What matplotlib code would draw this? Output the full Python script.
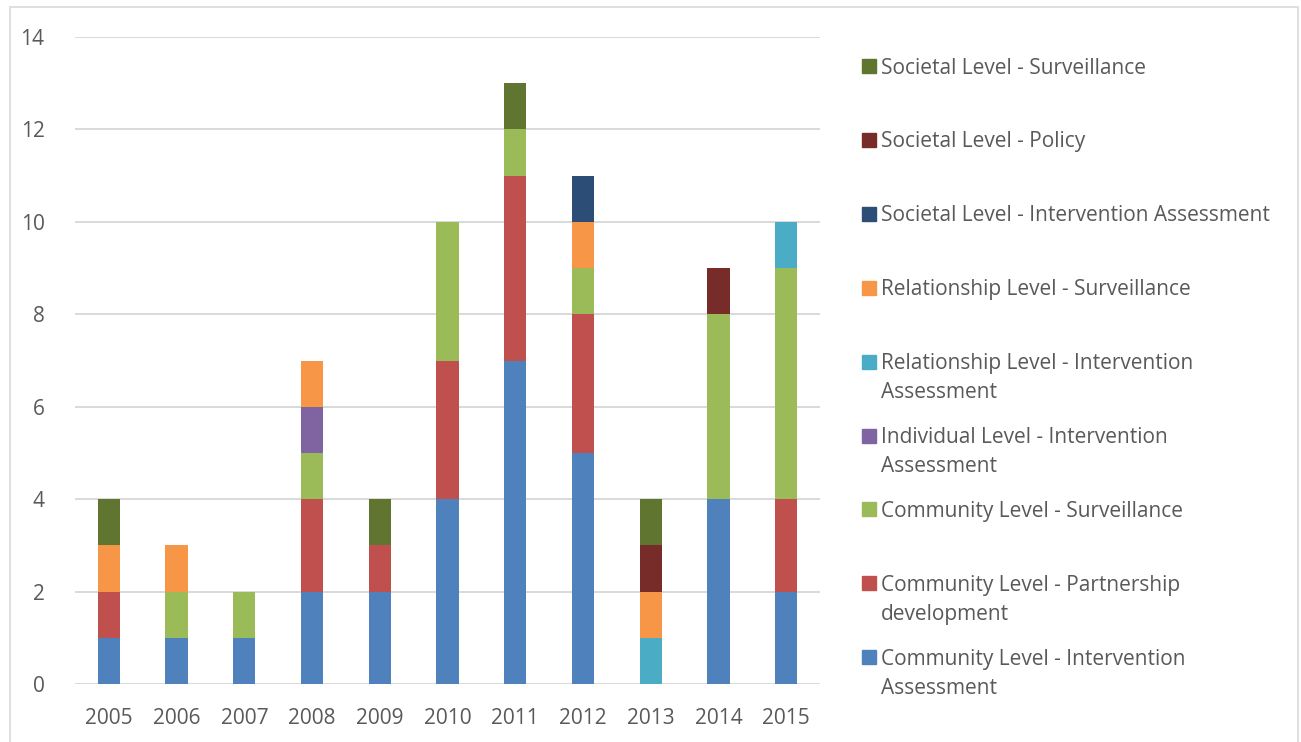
import matplotlib.pyplot as plt
import matplotlib.patches as patches
import numpy as np

W, H = 1301, 742

years = ["2005", "2006", "2007", "2008", "2009", "2010",
         "2011", "2012", "2013", "2014", "2015"]

# series in stacking order (bottom to top)
series_names = [
    "Community Level - Intervention Assessment",
    "Community Level - Partnership development",
    "Community Level - Surveillance",
    "Individual Level - Intervention Assessment",
    "Relationship Level - Intervention Assessment",
    "Relationship Level - Surveillance",
    "Societal Level - Intervention Assessment",
    "Societal Level - Policy",
    "Societal Level - Surveillance",
]
# wrapped legend text, as Excel shows it
legend_labels = [
    "Community Level - Intervention\nAssessment",
    "Community Level - Partnership\ndevelopment",
    "Community Level - Surveillance",
    "Individual Level - Intervention\nAssessment",
    "Relationship Level - Intervention\nAssessment",
    "Relationship Level - Surveillance",
    "Societal Level - Intervention Assessment",
    "Societal Level - Policy",
    "Societal Level - Surveillance",
]

community_ia = [1, 1, 1, 2, 2, 4, 7, 5, 0, 4, 2]
community_pd = [1, 0, 0, 2, 1, 3, 4, 3, 0, 0, 2]
community_surv = [0, 1, 1, 1, 0, 3, 1, 1, 0, 4, 5]
individual_ia = [0, 0, 0, 1, 0, 0, 0, 0, 0, 0, 0]
relationship_ia = [0, 0, 0, 0, 0, 0, 0, 0, 1, 0, 1]
relationship_surv = [1, 1, 0, 1, 0, 0, 0, 1, 1, 0, 0]
societal_ia = [0, 0, 0, 0, 0, 0, 0, 1, 0, 0, 0]
societal_policy = [0, 0, 0, 0, 0, 0, 0, 0, 1, 1, 0]
societal_surv = [1, 0, 0, 0, 1, 0, 1, 0, 1, 0, 0]

values = [community_ia, community_pd, community_surv, individual_ia,
          relationship_ia, relationship_surv, societal_ia,
          societal_policy, societal_surv]

colors = ["#4F81BD", "#C0504D", "#9BBB59", "#8064A2", "#4BACC6",
          "#F79646", "#2C4D75", "#772C2A", "#5F7530"]

plt.rcParams['font.family'] = ['Open Sans', 'DejaVu Sans']
text_color = "#595959"
grid_color = "#D9D9D9"
fsize = 15

fig = plt.figure(figsize=(W / 100, H / 100), dpi=100)

# chart area border
fig.patches.append(patches.Rectangle(
    (10 / W, -0.01), (1298 - 10) / W, 1.01 - 7 / H,
    transform=fig.transFigure, fill=False, edgecolor=grid_color, lw=1.2))

ax = fig.add_axes([75 / W, 1 - 684 / H, (820 - 75) / W, (684 - 37) / H])

x = np.arange(len(years))
bottom = np.zeros(len(years))
for vals, col in zip(values, colors):
    ax.bar(x, vals, width=0.33, bottom=bottom, color=col, zorder=3)
    bottom += np.array(vals)

ax.set_xlim(-0.5, len(years) - 0.5)
ax.set_ylim(0, 14)
ax.set_yticks(range(0, 15, 2))
ax.set_xticks(x)
ax.set_xticklabels(years)
ax.tick_params(axis='both', length=0, labelsize=fsize, colors=text_color)
ax.tick_params(axis='x', pad=17.5)
ax.tick_params(axis='y', pad=22)
ax.grid(axis='y', color=grid_color, lw=1.4, zorder=0)
for s in ax.spines.values():
    s.set_visible(False)

# legend drawn by hand: reversed order, Excel-style wrapped entries
row_y = [66 + 73.9 * i for i in range(9)]
for i, idx in enumerate(range(len(series_names) - 1, -1, -1)):
    yc = row_y[i]
    fig.patches.append(patches.Rectangle(
        (862 / W, 1 - (yc + 7) / H), 14 / W, 14 / H,
        transform=fig.transFigure, color=colors[idx]))
    lines = legend_labels[idx].split("\n")
    for j, line in enumerate(lines):
        fig.text(881 / W, 1 - (yc + 2 + 29 * j) / H, line, fontsize=fsize,
                 color=text_color, va='center', ha='left')

fig.savefig("out.png", dpi=100)
